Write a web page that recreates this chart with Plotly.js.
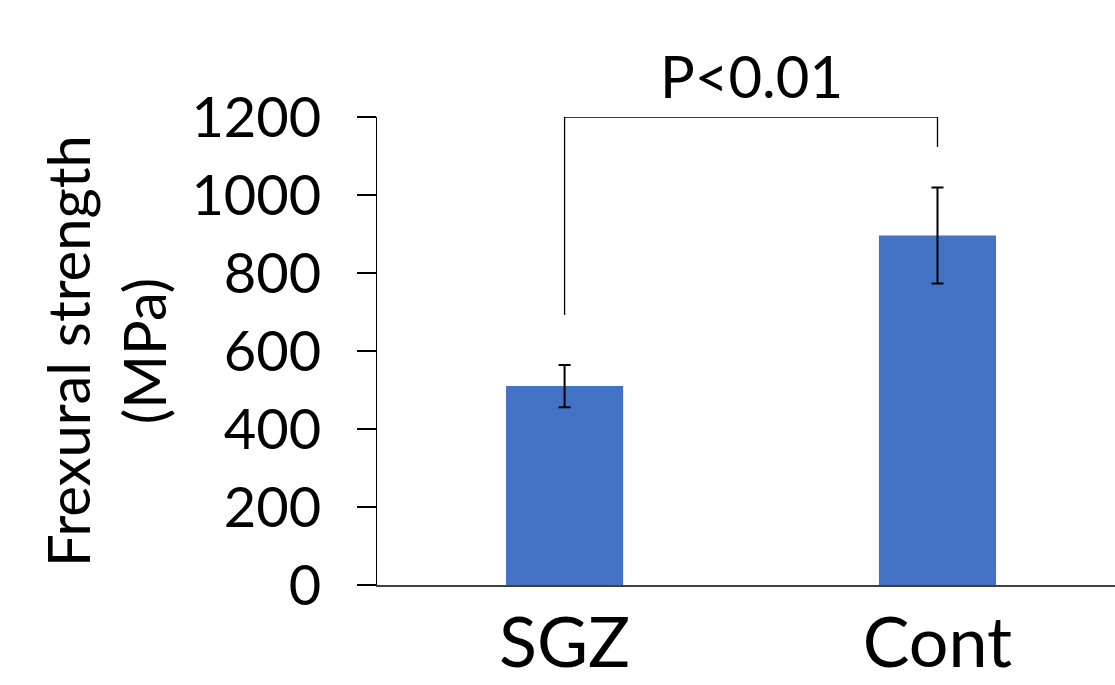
<!DOCTYPE html>
<html>
<head>
<meta charset="utf-8">
<script src="https://cdn.plot.ly/plotly-3.0.1.min.js"></script>
<style>html,body{margin:0;padding:0;background:#fff;}#chart{width:1115px;height:685px;}</style>
</head>
<body>
<div id="chart"></div>
<script>
const categories = ["SGZ", "Cont"];
const meanValues = [510, 896];
const errorValues = [54, 123];
const yTickValues = [0, 200, 400, 600, 800, 1000, 1200];
const bracketX = [0, 0, 1, 1];
const bracketY = [692, 1200, 1200, 1123];
const pLabel = "P<0.01";

const FONT = "Lato, 'Open Sans', sans-serif";

const bars = {
  type: "bar",
  x: [0, 1],
  y: meanValues,
  width: 0.314,
  marker: {color: "#4472C4"},
  error_y: {type: "data", array: errorValues, visible: true, color: "#000", thickness: 2, width: 6},
  hoverinfo: "skip"
};

const bracket = {
  type: "scatter",
  mode: "lines",
  x: bracketX,
  y: bracketY,
  line: {color: "#000", width: 1.3},
  cliponaxis: false,
  hoverinfo: "skip"
};

const layout = {
  width: 1115,
  height: 685,
  margin: {l: 377, r: 0, t: 117, b: 100},
  paper_bgcolor: "#fff",
  plot_bgcolor: "#fff",
  showlegend: false,
  font: {family: FONT, color: "#000"},
  xaxis: {
    range: [-0.503, 1.476],
    tickvals: [0, 1],
    ticktext: categories,
    tickfont: {size: 70, family: FONT, color: "#000"},
    ticklabelstandoff: -4,
    showline: true,
    linecolor: "#404040",
    linewidth: 1.5,
    ticks: "",
    showgrid: false,
    zeroline: false,
    fixedrange: true
  },
  yaxis: {
    range: [0, 1200],
    tickvals: yTickValues,
    ticktext: yTickValues.map(String),
    tickfont: {size: 56, family: FONT, color: "#000"},
    ticks: "outside",
    ticklen: 19,
    tickwidth: 1.5,
    tickcolor: "#000",
    ticklabelstandoff: 24,
    showline: true,
    linecolor: "#000",
    linewidth: 1.5,
    showgrid: false,
    zeroline: false,
    fixedrange: true,
    title: {text: "Frexural strength<br>(MPa)", font: {size: 58, family: FONT, color: "#000"}, standoff: 6}
  },
  annotations: [{
    x: 0.5, y: 1200, xref: "x", yref: "y",
    text: pLabel, showarrow: false,
    yanchor: "bottom", yshift: 5,
    font: {size: 58, family: FONT, color: "#000"}
  }]
};

Plotly.newPlot("chart", [bars, bracket], layout, {displayModeBar: false, staticPlot: true});
</script>
</body>
</html>
